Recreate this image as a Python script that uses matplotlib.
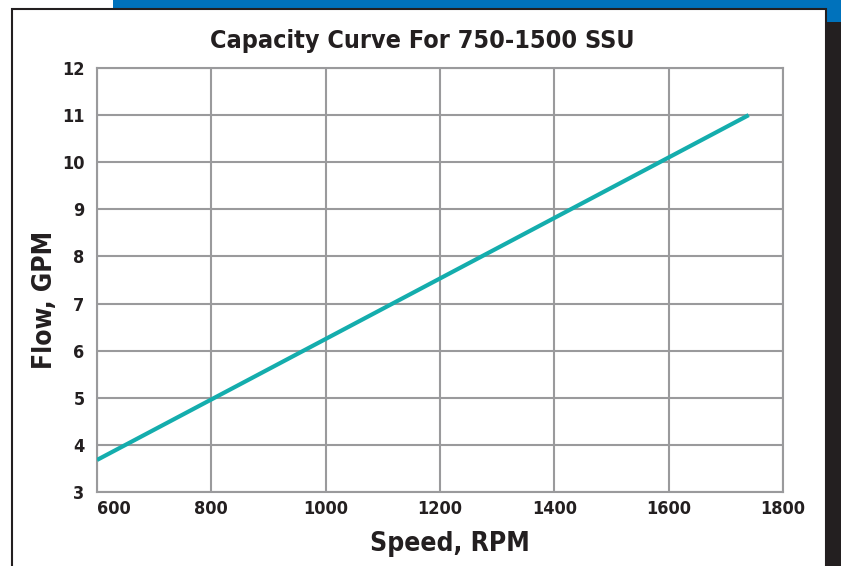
import matplotlib
matplotlib.use("Agg")
import matplotlib.pyplot as plt
from matplotlib.patches import Rectangle

# data
speed_rpm = [600, 1740]
flow_gpm = [3.68, 11.0]
x_ticks = [600, 800, 1000, 1200, 1400, 1600, 1800]
y_ticks = [3, 4, 5, 6, 7, 8, 9, 10, 11, 12]

plt.rcParams['font.family'] = ['DejaVu Sans']
plt.rcParams['font.stretch'] = 'condensed'
plt.rcParams['font.weight'] = 'bold'

W, H = 841, 566
fig = plt.figure(figsize=(W / 100, H / 100), dpi=100)

def px_rect(x0, y0, x1, y1, **kw):
    # rectangle given in pixel coords, origin top-left
    r = Rectangle((x0 / W, 1 - y1 / H), (x1 - x0) / W, (y1 - y0) / H,
                  transform=fig.transFigure, zorder=-10, **kw)
    fig.patches.append(r)

# frame decoration around the panel
px_rect(113, 0, 841, 10, facecolor='#0072bc', edgecolor='none')
px_rect(826, 0, 841, 22, facecolor='#0072bc', edgecolor='none')
px_rect(827, 22, 841, 566, facecolor='#231f20', edgecolor='none')
px_rect(12, 9, 826, 580, facecolor='white', edgecolor='#231f20', linewidth=1.5)

ax = fig.add_axes([97 / W, 1 - 492 / H, (783 - 97) / W, (492 - 68) / H])
ax.set_zorder(5)
ax.set_facecolor('none')
ax.plot(speed_rpm, flow_gpm, color='#14adad', linewidth=3, solid_capstyle='butt', zorder=3)

ax.set_xlim(600, 1800)
ax.set_ylim(3, 12)
ax.set_xticks(x_ticks)
ax.set_yticks(y_ticks)
ax.grid(True, color='#9a9a9c', linewidth=1.5)
for s in ax.spines.values():
    s.set_color('#9a9a9c')
    s.set_linewidth(1.5)
ax.tick_params(length=0, labelsize=13, colors='#231f20')
ax.tick_params(axis='y', pad=9)
ax.tick_params(axis='x', pad=6)
ax.set_xticklabels([str(v) for v in x_ticks])
ax.get_xticklabels()[0].set_horizontalalignment('left')

txt = dict(fontsize=19, fontweight='bold', color='#231f20', ha='center', va='center')
fig.text(422 / W, 1 - 41 / H, 'Capacity Curve For 750-1500 SSU', **dict(txt, fontsize=18))
fig.text(450 / W, 1 - 544 / H, 'Speed, RPM', **txt)
fig.text(45 / W, 1 - 300 / H, 'Flow, GPM', rotation=90, **txt)

fig.savefig('out.png', dpi=100)
